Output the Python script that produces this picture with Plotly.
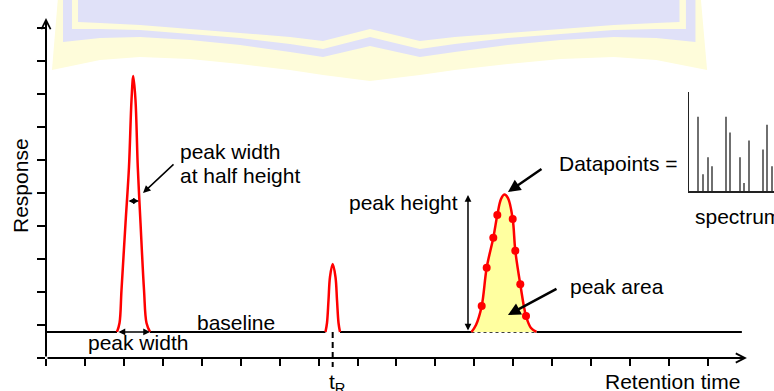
import plotly.graph_objects as go

# ---------------- data ----------------
time_ticks = list(range(0, 18))          # retention-time tick marks
response_ticks = list(range(0, 11))      # response tick marks
baseline_level = 0.79

# baseline pieces between peaks (retention time)
baseline_x = [0.0, 1.823, None, 2.671, 7.177, None, 7.550, 10.927, None, 12.596, 17.87]

# peak 1 (narrow, tall)
peak1_x = [1.823, 1.888, 1.939, 2.042, 2.131, 2.196, 2.242, 2.298, 2.357, 2.427, 2.517, 2.581, 2.671]
peak1_y = [0.79, 1.061, 2.061, 4.091, 5.788, 7.818, 8.545, 7.818, 5.788, 4.091, 2.061, 1.061, 0.79]

# peak 2 (small, at tR)
peak2_x = [7.177, 7.216, 7.255, 7.293, 7.362, 7.434, 7.473, 7.512, 7.550]
peak2_y = [0.79, 1.061, 1.758, 2.455, 2.848, 2.455, 1.758, 1.061, 0.79]
t_R = 7.362

# peak 3 (broad, filled)
peak3_x = [10.927, 11.042, 11.189, 11.317, 11.487, 11.590, 11.685, 11.769, 11.864,
           11.985, 12.052, 12.180, 12.327, 12.455, 12.596]
peak3_y = [0.79, 1.0, 1.576, 2.736, 3.645, 4.333, 4.818, 4.955, 4.848,
           4.212, 3.252, 2.233, 1.273, 0.909, 0.79]

# datapoints on peak 3
dots_x = [11.189, 11.317, 11.487, 11.590, 11.985, 12.052, 12.180, 12.327]
dots_y = [1.576, 2.736, 3.645, 4.333, 4.212, 3.252, 2.233, 1.273]

# inset mass spectrum
spectrum_mz = [49, 54, 59, 63, 77, 81, 91, 95, 100, 114, 118, 123]
spectrum_int = [75, 17, 34, 25, 75, 59, 34, 8, 51, 42, 67, 25]

# ---------------- figure ----------------
RED = "#ff0000"
FONT = dict(family="Liberation Sans, Arial, sans-serif", size=21, color="black")

fig = go.Figure()

baseline_y = [None if v is None else baseline_level for v in baseline_x]
fig.add_trace(go.Scatter(x=baseline_x, y=baseline_y, mode="lines",
                         line=dict(color="black", width=2), hoverinfo="skip"))
fig.add_trace(go.Scatter(x=[peak3_x[0], peak3_x[-1]], y=[baseline_level, baseline_level],
                         mode="lines", line=dict(color="black", width=1.5, dash="dot")))
fig.add_trace(go.Scatter(x=peak3_x, y=peak3_y, mode="lines", fill="toself",
                         fillcolor="#ffffa0", line=dict(color=RED, width=2.5, shape="spline")))
fig.add_trace(go.Scatter(x=peak1_x, y=peak1_y, mode="lines",
                         line=dict(color=RED, width=2.5, shape="spline")))
fig.add_trace(go.Scatter(x=peak2_x, y=peak2_y, mode="lines",
                         line=dict(color=RED, width=2.5, shape="spline")))
fig.add_trace(go.Scatter(x=dots_x, y=dots_y, mode="markers",
                         marker=dict(color=RED, size=8)))
fig.add_trace(go.Scatter(x=[t_R, t_R], y=[baseline_level, -0.27], mode="lines",
                         line=dict(color="black", width=2, dash="6px,4px")))
fig.add_trace(go.Bar(x=spectrum_mz, y=spectrum_int, xaxis="x2", yaxis="y2",
                     width=1.3, marker=dict(color="#222222", line=dict(width=0))))

# ---------------- faint watermark banner ----------------
W, H, L = 774, 391, 46
PW = W - L
CX, K = 370, 1.06


def to_paper(px, py):
    return (px - L) / PW, (H - py) / H


def banner_path(left_x, bottom_pts):
    right = [(CX + (CX - x) * K, y) for x, y in reversed(bottom_pts[:-1])]
    pts = [(left_x, -3)] + bottom_pts + right + [(CX + (CX - left_x) * K, -3)]
    s = ""
    for i, (x, y) in enumerate(pts):
        a, b = to_paper(x, y)
        s += ("M" if i == 0 else "L") + f"{a:.4f},{b:.4f} "
    return s + "Z"


LAV, YEL = "#e0e1f8", "#fefcda"
banner_layers = [
    (58, [(52, 70), (100, 60), (140, 57), (190, 59), (240, 64), (290, 70), (323, 75), (370, 81)], YEL),
    (63, [(63, 42), (100, 38), (140, 37), (190, 40), (240, 45), (290, 52), (323, 57), (370, 46)], LAV),
    (72, [(72, 29), (100, 29), (140, 30), (190, 34), (240, 38), (290, 44), (323, 49), (370, 37)], YEL),
    (78, [(78, 22), (100, 23), (140, 25), (190, 29), (240, 33), (290, 37), (323, 41), (370, 29)], LAV),
]
shapes = [dict(type="path", xref="paper", yref="paper", path=banner_path(lx, pts),
               fillcolor=c, line=dict(width=0), layer="below")
          for lx, pts, c in banner_layers]

# ---------------- annotations ----------------
def arrow(x, y, ax, ay, width=2, head=2, size=1.0, both=False):
    d = dict(x=x, y=y, ax=ax, ay=ay, xref="x", yref="y", axref="x", ayref="y",
             text="", showarrow=True, arrowhead=head, arrowsize=size,
             arrowwidth=width, arrowcolor="black", standoff=0, startstandoff=0)
    if both:
        d.update(arrowside="end+start", startarrowhead=head, startarrowsize=size)
    return d


def label(text, x, y, xanchor="left", **kw):
    d = dict(text=text, x=x, y=y, xref="x", yref="y", xanchor=xanchor,
             yanchor="middle", showarrow=False, font=FONT)
    d.update(kw)
    return d


annotations = [
    # axes
    arrow(18.0, 0, 0, 0, width=2, head=5, size=0.9),
    arrow(0, 10.3, 0, 0, width=2, head=5, size=0.9),
    # measurements
    arrow(2.388, 4.758, 2.080, 4.758, width=1.5, head=2, size=0.8, both=True),
    arrow(2.671, baseline_level, 1.823, baseline_level, width=1.5, head=2, size=0.9, both=True),
    arrow(10.837, 4.939, 10.837, baseline_level, width=1.5, head=2, size=0.9, both=True),
    # pointers
    arrow(2.491, 5.0, 3.313, 5.909, width=1.5, head=2, size=1.0),
    arrow(11.864, 5.03, 12.763, 5.758, width=2.5, head=2, size=1.0),
    arrow(11.864, 1.303, 13.148, 2.121, width=2.5, head=2, size=1.0),
    # texts
    label("peak width", 3.390, 6.262),
    label("at half height", 3.390, 5.535),
    label("baseline", 3.826, 1.061),
    label("peak width", 1.027, 0.455),
    label("peak height", 10.632, 4.727, xanchor="right"),
    label("Datapoints =", 13.123, 5.909),
    label("spectrum", 16.615, 4.303),
    label("peak area", 13.405, 2.152),
    label("t<sub>0</sub>", -0.02, -0.758),
    label("t<sub>R</sub>", 7.216, -0.758),
    label("Retention time", 17.874, -0.697, xanchor="right"),
    dict(text="Response", x=(20 - L) / PW, y=5.212, xref="paper", yref="y",
         xanchor="center", yanchor="middle", textangle=-90, showarrow=False, font=FONT),
]

axis_common = dict(showgrid=False, zeroline=False, showline=False, showticklabels=False,
                   ticks="outside", tickwidth=2, tickcolor="black", automargin=False)
inset_common = dict(showgrid=False, zeroline=False, showline=True, linecolor="#222222",
                    linewidth=1.5, showticklabels=False, ticks="", automargin=False)

fig.update_layout(
    width=W, height=H,
    margin=dict(l=L, r=0, t=0, b=0, pad=0, autoexpand=False),
    paper_bgcolor="white", plot_bgcolor="rgba(0,0,0,0)",
    showlegend=False,
    xaxis=dict(range=[0, PW / 38.94], tickmode="array", tickvals=time_ticks, ticklen=7,
               anchor="free", position=(H - 358) / H, domain=[0, 1], **axis_common),
    yaxis=dict(range=[-(H - 358) / 33, 358 / 33], tickmode="array", tickvals=response_ticks,
               ticklen=8, domain=[0, 1], **axis_common),
    xaxis2=dict(domain=[(689 - L) / PW, 1], anchor="y2", range=[40, 125], **inset_common),
    yaxis2=dict(domain=[(H - 191) / H, (H - 92) / H], anchor="x2", range=[0, 100], **inset_common),
    shapes=shapes,
    annotations=annotations,
)

fig.write_html("out.html",
               config={"displayModeBar": False, "staticPlot": True},
               post_script="document.body.style.margin='0';document.body.style.overflow='hidden';")
